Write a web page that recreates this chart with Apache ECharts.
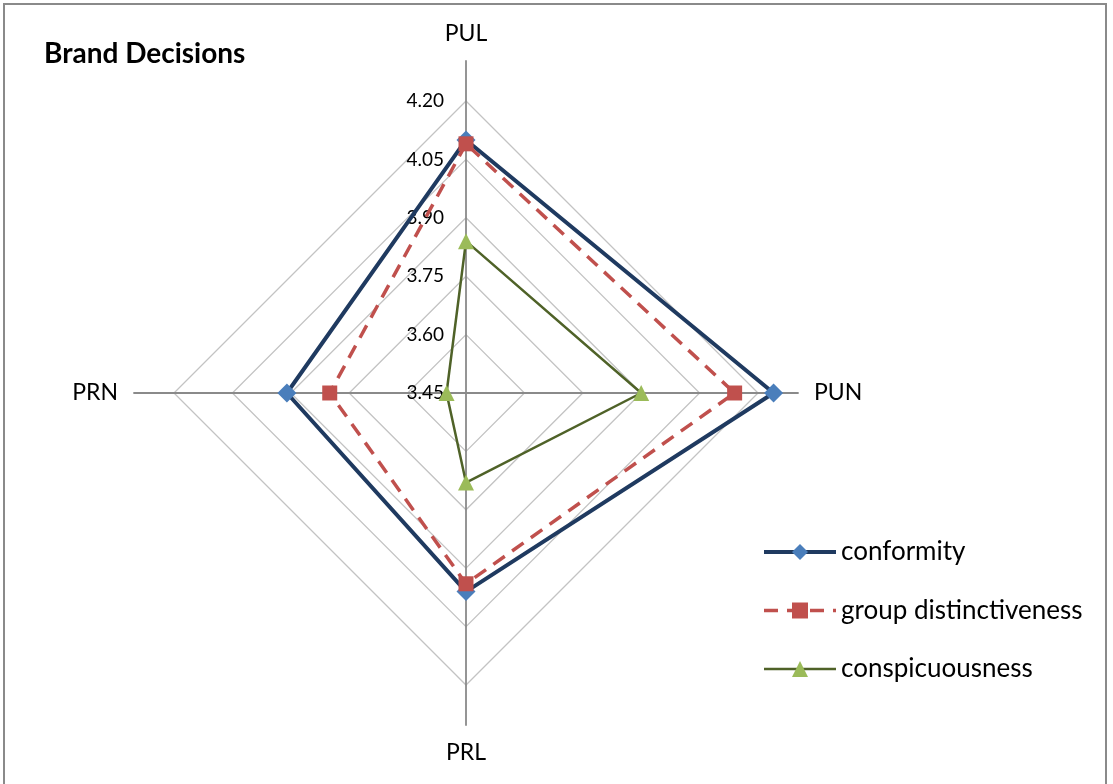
<!DOCTYPE html>
<html>
<head>
<meta charset="utf-8">
<script src="https://cdn.jsdelivr.net/npm/echarts@6/dist/echarts.min.js"></script>
<style>
  html, body { margin: 0; padding: 0; background: #fff; }
  #frame { position: absolute; left: 3px; top: 3px; width: 1104px; height: 820px; border: 2px solid #8a8a8a; box-sizing: border-box; }
  #chart { position: absolute; left: 0; top: 0; width: 1113px; height: 784px; }
</style>
</head>
<body>
<div id="frame"></div>
<div id="chart"></div>
<script>
// Radar axes, listed clockwise from the top
const categories = ['PUL', 'PUN', 'PRL', 'PRN'];
const seriesNames = ['conformity', 'group distinctiveness', 'conspicuousness'];
const conformity = [4.10, 4.24, 3.96, 3.91];
const groupDistinctiveness = [4.09, 4.14, 3.94, 3.80];
const conspicuousness = [3.84, 3.90, 3.68, 3.50];
const tickLabels = ['3.45', '3.60', '3.75', '3.90', '4.05', '4.20'];

const axisMin = parseFloat(tickLabels[0]);
const axisMax = parseFloat(tickLabels[tickLabels.length - 1]);
const FONT = 'Lato, "Liberation Sans", sans-serif';
const CENTER = [466, 393];

// ECharts lays radar indicators out counter-clockwise, so walk the
// categories backwards after the first one to keep them clockwise.
const order = categories.map((_, i) => (categories.length - i) % categories.length);
const cats = order.map(i => categories[i]);
const reorder = arr => order.map(i => arr[i]);

const styles = [
  { line: '#1F3A60', marker: '#4A7EBB', symbol: 'diamond', size: 19, width: 4, type: 'solid' },
  { line: '#C0504D', marker: '#C0504D', symbol: 'rect', size: 15, width: 3.5, type: [14, 9] },
  { line: '#4F6228', marker: '#9BBB59', symbol: 'triangle', size: 16, width: 2.5, type: 'solid' }
];
const values = [conformity, groupDistinctiveness, conspicuousness];

// Ring grid with value labels on the top axis
const ringIndicators = cats.map((c, i) => {
  const ind = { name: c, min: axisMin, max: axisMax };
  if (i === 0) {
    ind.axisLabel = {
      show: true,
      color: '#000',
      fontFamily: FONT,
      fontSize: 19,
      margin: 22,
      formatter: v => v.toFixed(2)
    };
  }
  return ind;
});

const chart = echarts.init(document.getElementById('chart'), null, { renderer: 'canvas' });

const radarSeries = values.map((vals, i) => ({
  type: 'radar',
  radarIndex: 0,
  name: seriesNames[i],
  symbol: styles[i].symbol,
  symbolSize: styles[i].size,
  z: 3 + i,
  lineStyle: { color: styles[i].line, width: styles[i].width, type: styles[i].type, cap: 'butt' },
  itemStyle: { color: styles[i].marker, opacity: 1 },
  emphasis: { disabled: true },
  data: [{ name: seriesNames[i], value: reorder(vals) }]
}));

// Empty line series supply the line-and-marker legend swatches
const legendSeries = seriesNames.map((n, i) => ({
  type: 'line',
  name: n,
  xAxisIndex: 0,
  yAxisIndex: 0,
  symbol: styles[i].symbol,
  lineStyle: { color: styles[i].line, width: styles[i].width, type: styles[i].type },
  itemStyle: { color: styles[i].marker },
  data: []
}));

chart.setOption({
  animation: false,
  backgroundColor: 'transparent',
  title: {
    text: 'Brand Decisions',
    left: 39,
    top: 35,
    textStyle: { fontFamily: FONT, fontSize: 28, fontWeight: 'bold', color: '#000' }
  },
  legend: {
    orient: 'vertical',
    left: 757,
    top: 534,
    itemWidth: 72,
    itemHeight: 20,
    itemGap: 32.5,
    data: seriesNames,
    selectedMode: false,
    textStyle: { fontFamily: FONT, fontSize: 26, color: '#000' },
    lineStyle: { width: 'inherit' }
  },
  grid: { left: 0, top: 0, width: 10, height: 10, show: false },
  xAxis: { type: 'value', show: false },
  yAxis: { type: 'value', show: false },
  radar: [
    {
      center: CENTER,
      radius: 292,
      shape: 'polygon',
      splitNumber: tickLabels.length - 1,
      indicator: ringIndicators,
      axisName: { show: false },
      axisLine: { show: false },
      axisTick: { show: false },
      axisLabel: { show: false },
      splitArea: { show: false },
      splitLine: { lineStyle: { color: '#C3C3C3', width: 1.3 } }
    },
    {
      center: CENTER,
      radius: 332,
      shape: 'polygon',
      indicator: cats.map(c => ({ name: c, min: 0, max: 1 })),
      nameGap: 16,
      axisName: { color: '#000', fontFamily: FONT, fontSize: 23 },
      axisLine: { show: true, lineStyle: { color: '#8A8A8A', width: 1.8 } },
      axisTick: { show: false },
      axisLabel: { show: false },
      splitArea: { show: false },
      splitLine: { show: false }
    }
  ],
  series: legendSeries.concat(radarSeries)
});
</script>
</body>
</html>
